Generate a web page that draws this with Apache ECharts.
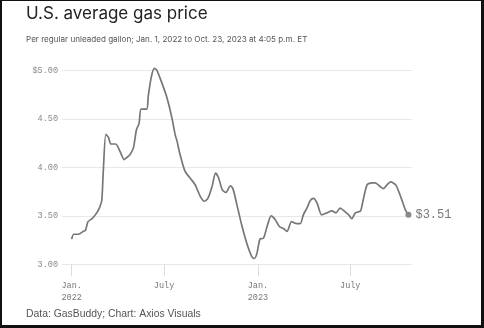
<!DOCTYPE html>
<html>
<head>
<meta charset="utf-8">
<script src="https://cdn.jsdelivr.net/npm/echarts@6/dist/echarts.min.js"></script>
<style>
  html, body { margin: 0; padding: 0; background: #fff; }
  #chart { position: absolute; left: 0; top: 0; width: 484px; height: 328px; }
  #frame { position: absolute; left: 0; top: 0; width: 484px; height: 328px; box-sizing: border-box;
           border-left: 2px solid #111; border-top: 1px solid #111; border-right: 3px solid #111; border-bottom: 3px solid #111; pointer-events: none; }
</style>
</head>
<body>
<div id="chart"></div>
<div id="frame"></div>
<script>
const titleText = 'U.S. average gas price';
const subtitleText = 'Per regular unleaded gallon; Jan. 1, 2022 to Oct. 23, 2023 at 4:05 p.m. ET';
const sourceText = 'Data: GasBuddy; Chart: Axios Visuals';

const dates = [
  '2022-01-01','2022-01-05','2022-01-14','2022-01-24','2022-01-28','2022-02-02','2022-02-10','2022-02-19',
  '2022-02-25','2022-03-01','2022-03-04','2022-03-09','2022-03-14','2022-03-19','2022-03-28','2022-04-06',
  '2022-04-14','2022-04-19','2022-04-25','2022-05-02','2022-05-08','2022-05-13','2022-05-17','2022-05-28',
  '2022-05-31','2022-06-06','2022-06-12','2022-06-17','2022-06-26','2022-07-06','2022-07-16','2022-07-23',
  '2022-07-26','2022-08-01','2022-08-11','2022-08-21','2022-08-31','2022-09-10','2022-09-18','2022-09-25',
  '2022-10-03','2022-10-10','2022-10-16','2022-10-23','2022-10-30','2022-11-08','2022-11-13','2022-11-21',
  '2022-11-30','2022-12-10','2022-12-20','2022-12-25','2022-12-30','2023-01-05','2023-01-12','2023-01-19',
  '2023-01-27','2023-02-04','2023-02-12','2023-02-20','2023-02-27','2023-03-08','2023-03-18','2023-03-25',
  '2023-03-31','2023-04-07','2023-04-14','2023-04-20','2023-04-27','2023-05-06','2023-05-16','2023-05-26',
  '2023-06-03','2023-06-11','2023-06-21','2023-06-28','2023-07-04','2023-07-11','2023-07-21','2023-07-25',
  '2023-08-03','2023-08-13','2023-08-19','2023-08-29','2023-09-04','2023-09-11','2023-09-18','2023-09-28',
  '2023-10-04','2023-10-11','2023-10-17','2023-10-23'
];
const prices = [
  3.26,3.31,3.31,3.34,3.35,3.44,3.47,3.53,
  3.59,3.66,3.97,4.34,4.31,4.24,4.24,4.16,
  4.08,4.10,4.13,4.20,4.39,4.45,4.60,4.60,
  4.73,4.93,5.02,5.00,4.88,4.73,4.52,4.33,
  4.28,4.14,3.96,3.89,3.82,3.70,3.65,3.68,
  3.80,3.94,3.89,3.77,3.74,3.81,3.78,3.61,
  3.41,3.22,3.08,3.06,3.11,3.26,3.27,3.39,
  3.50,3.46,3.39,3.37,3.34,3.44,3.42,3.42,
  3.51,3.58,3.66,3.68,3.63,3.51,3.53,3.55,
  3.53,3.58,3.54,3.51,3.47,3.53,3.55,3.63,
  3.82,3.84,3.84,3.80,3.78,3.82,3.85,3.82,
  3.75,3.65,3.56,3.51
];
const xTickDates = ['2022-01-01','2022-07-01','2023-01-01','2023-07-01'];
const xTickLabels = ['Jan.\n2022','July','Jan.\n2023','July'];
const xRange = ['2021-12-13','2023-10-30'];
const yTicks = [3.0, 3.5, 4.0, 4.5, 5.0];
const yTickLabels = ['3.00','3.50','4.00','4.50','$5.00'];
const lastLabel = '$3.51';

const toTime = d => Date.UTC(+d.slice(0, 4), +d.slice(5, 7) - 1, +d.slice(8, 10));
const xTickTimes = xTickDates.map(toTime);
const seriesData = dates.map((d, i) => [toTime(d), prices[i]]);

const chart = echarts.init(document.getElementById('chart'), null, { renderer: 'canvas' });
const mono = '"Liberation Mono", "DejaVu Sans Mono", monospace';

chart.setOption({
  animation: false,
  backgroundColor: '#fff',
  title: [
    { text: titleText, left: 26, top: 5, padding: 0,
      textStyle: { fontFamily: 'Inter, "Liberation Sans", sans-serif', fontSize: 17, fontWeight: 'normal', color: '#222' } },
    { text: subtitleText, left: 26, top: 36, padding: 0,
      textStyle: { fontFamily: 'Inter, "Liberation Sans", sans-serif', fontSize: 8.1, fontWeight: 'normal', color: '#555' } },
    { text: sourceText, left: 26, bottom: 9, padding: 0,
      textStyle: { fontFamily: '"Liberation Sans", Arial, sans-serif', fontSize: 10.4, fontWeight: 'normal', color: '#555' } }
  ],
  grid: { left: 62, right: 72, top: 70.3, bottom: 63.7, containLabel: false },
  xAxis: {
    type: 'value',
    min: toTime(xRange[0]),
    max: toTime(xRange[1]),
    axisLine: { show: false },
    splitLine: { show: false },
    axisTick: { show: true, length: 12, lineStyle: { color: '#ddd' }, customValues: xTickTimes },
    axisLabel: {
      customValues: xTickTimes,
      margin: 15,
      fontFamily: mono, fontSize: 8.5, color: '#777', lineHeight: 12,
      formatter: function (v) {
        const i = xTickTimes.indexOf(v);
        return i >= 0 ? xTickLabels[i] : '';
      }
    }
  },
  yAxis: {
    type: 'value',
    min: 3, max: 5, interval: 0.5,
    axisLine: { show: false },
    axisTick: { show: false },
    splitLine: { lineStyle: { color: '#e8e8e8', width: 1 } },
    axisLabel: {
      margin: 4,
      fontFamily: mono, fontSize: 8.5, color: '#888',
      formatter: function (v) {
        const i = yTicks.findIndex(t => Math.abs(t - v) < 1e-6);
        return i >= 0 ? yTickLabels[i] : '';
      }
    }
  },
  series: [{
    type: 'line',
    data: seriesData,
    clip: false,
    smooth: 0.25,
    showSymbol: false,
    lineStyle: { color: '#777', width: 1.7 },
    markPoint: {
      symbol: 'circle',
      symbolSize: 6,
      itemStyle: { color: '#888' },
      data: [{ coord: seriesData[seriesData.length - 1],
        label: { show: true, position: 'right', distance: 4, formatter: lastLabel,
                 fontFamily: mono, fontSize: 12, color: '#777' } }]
    }
  }]
});
</script>
</body>
</html>
